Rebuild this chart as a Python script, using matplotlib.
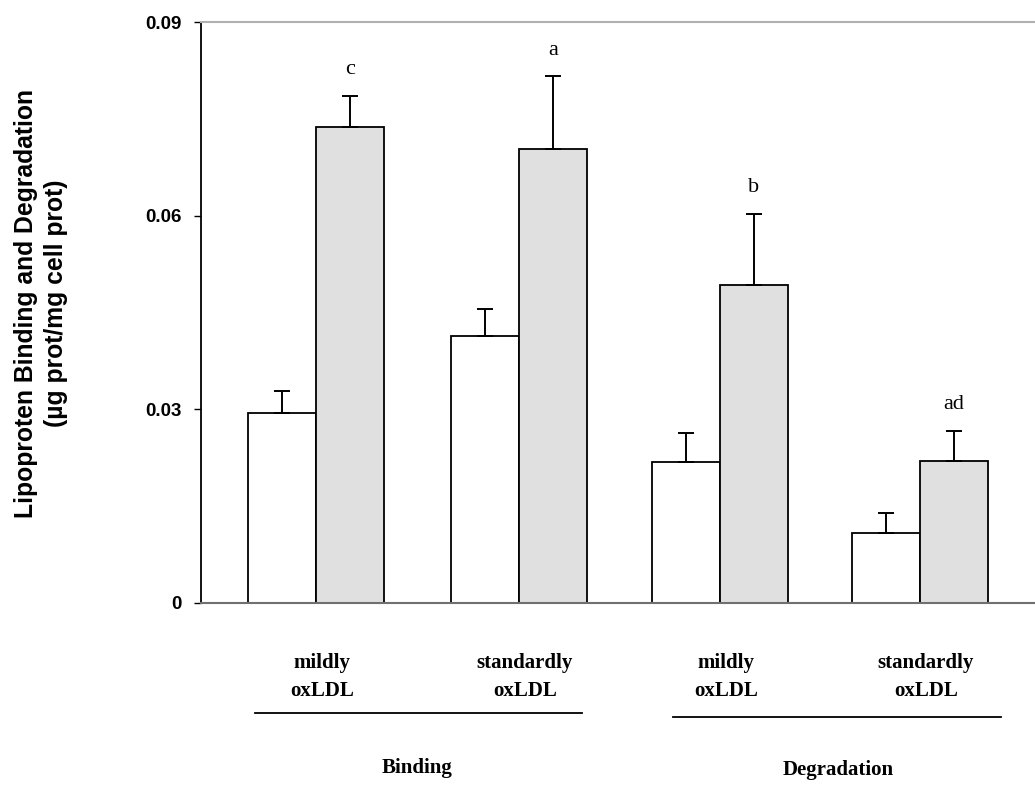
import matplotlib.pyplot as plt
import numpy as np

# Data
groups = ['mildly\noxLDL', 'standardly\noxLDL', 'mildly\noxLDL', 'standardly\noxLDL']
white_vals = [0.0294, 0.0414, 0.0218, 0.0108]
white_err = [0.0034, 0.0041, 0.0045, 0.0031]
gray_vals = [0.0737, 0.0704, 0.0492, 0.0220]
gray_err = [0.0049, 0.0112, 0.0111, 0.0047]
letters = ['c', 'a', 'b', 'ad']
sections = ['Binding', 'Degradation']
yticks = [0, 0.03, 0.06, 0.09]
ytick_labels = ['0', '0.03', '0.06', '0.09']

fig = plt.figure(figsize=(10.35, 7.86), dpi=100)
ax = fig.add_axes([0.194, 0.233, 0.806, 0.739])

x = np.array([0, 1.005, 2.0, 2.99])
w = 0.335

ax.bar(x - w / 2, white_vals, w, color='white', edgecolor='black', linewidth=1.3, zorder=2)
ax.bar(x + w / 2, gray_vals, w, color='#e0e0e0', edgecolor='black', linewidth=1.3, zorder=2)

# upper error bars only
ax.errorbar(x - w / 2, white_vals, yerr=[np.zeros(4), white_err], fmt='none',
            ecolor='black', elinewidth=1.4, capsize=6, capthick=1.4, zorder=3)
ax.errorbar(x + w / 2, gray_vals, yerr=[np.zeros(4), gray_err], fmt='none',
            ecolor='black', elinewidth=1.4, capsize=6, capthick=1.4, zorder=3)

for xi, v, e, s in zip(x, gray_vals, gray_err, letters):
    ax.text(xi + w / 2, v + e + 0.0040, s, ha='center', va='center',
            fontsize=16, family='Liberation Serif')

ax.set_xlim(-0.57, 3.56)
ax.set_ylim(0, 0.09)
ax.set_yticks(yticks)
ax.set_yticklabels(ytick_labels, fontsize=13.5, fontweight='bold', family='Liberation Sans')
ax.set_xticks([])
ax.tick_params(axis='y', direction='out', length=5, width=1, pad=9)

ax.spines['right'].set_visible(False)
ax.spines['top'].set_color('#b0b0b0')
ax.spines['top'].set_linewidth(1.5)
ax.spines['left'].set_linewidth(1.3)
ax.spines['bottom'].set_color('#707070')
ax.spines['bottom'].set_linewidth(1.5)

ax.set_ylabel('Lipoproten Binding and Degradation\n(\u00b5g prot/mg cell prot)',
              fontsize=17.8, fontweight='bold', family='Liberation Sans',
              linespacing=1.3)
ax.yaxis.set_label_coords(-0.159, 0.516)

# category labels under bars
for xi, g in zip(x, groups):
    ax.text(xi + 0.03, -0.128, g, transform=ax.get_xaxis_transform(), ha='center', va='center',
            fontsize=15, fontweight='bold', family='Liberation Serif', linespacing=1.5)

# section underline and labels
ax.plot([x[0] - 0.3, x[1] + 0.31], [-0.189, -0.189], transform=ax.get_xaxis_transform(),
        color='black', linewidth=1.3, clip_on=False)
ax.plot([x[2] - 0.23, x[3] + 0.4], [-0.196, -0.196], transform=ax.get_xaxis_transform(),
        color='black', linewidth=1.3, clip_on=False)
ax.text((x[0] + x[1]) / 2, -0.284, sections[0], transform=ax.get_xaxis_transform(),
        ha='center', va='center', fontsize=15, fontweight='bold', family='Liberation Serif')
ax.text((x[2] + x[3]) / 2 + 0.09, -0.288, sections[1], transform=ax.get_xaxis_transform(),
        ha='center', va='center', fontsize=15, fontweight='bold', family='Liberation Serif')

plt.savefig('out.png', dpi=100)
